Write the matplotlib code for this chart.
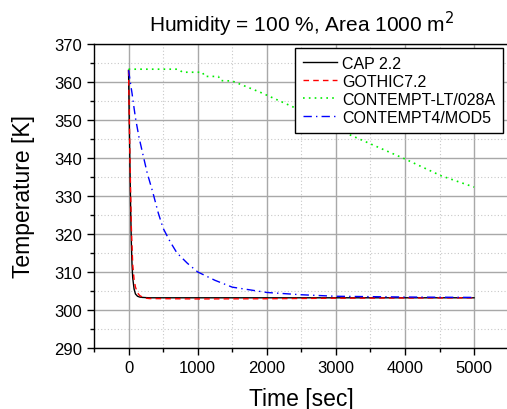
import matplotlib.pyplot as plt
from matplotlib.ticker import MultipleLocator

plt.rcParams['font.family'] = ['Liberation Sans', 'DejaVu Sans']

# CAP 2.2
t_cap = [0, 10, 20, 30, 40, 50, 60, 80, 100, 130, 160, 200, 300, 1000, 2000, 3000, 4000, 5000]
T_cap = [363, 350, 338, 327, 318, 312, 308.5, 305.5, 304.2, 303.6, 303.4, 303.3, 303.2,
         303.2, 303.2, 303.2, 303.2, 303.2]

# GOTHIC7.2
t_got = [0, 20, 40, 60, 80, 100, 130, 160, 200, 250, 300, 1000, 2000, 3000, 4000, 5000]
T_got = [363, 340, 322, 312, 308, 306, 304.5, 303.8, 303.4, 303.1, 303.0, 302.9, 302.95,
         303.1, 303.15, 303.2]

# CONTEMPT-LT/028A
t_lt = [0, 700, 730, 780, 1070, 1100, 1300, 1330, 1500, 1910, 2390, 3170, 4000, 4520, 5000]
T_lt = [363.3, 363.3, 363.2, 362.5, 362.5, 361.4, 361.4, 360.3, 360.2, 357.2, 353.3, 346.3,
        339.7, 335.3, 332.3]

# CONTEMPT4/MOD5
t_c4 = [0, 25, 50, 75, 100, 150, 200, 270, 350, 430, 500, 600, 700, 850, 1000, 1250, 1500,
        2000, 2500, 3000, 4000, 5000]
T_c4 = [363, 360, 357, 353.7, 350.5, 345.5, 341.5, 336, 331, 325.5, 321.5, 318, 315, 312.3,
        310, 307.8, 306, 304.6, 304.0, 303.6, 303.4, 303.3]

fig = plt.figure(figsize=(5.07, 4.10), dpi=100)
ax = fig.add_axes([94 / 507, 61 / 410, 414.6 / 507, 304.3 / 410])

ax.plot(t_cap, T_cap, color='black', lw=1.0, ls='-', label='CAP 2.2')
ax.plot(t_got, T_got, color='red', lw=1.0, ls=(0, (4, 3)), label='GOTHIC7.2')
ax.plot(t_lt, T_lt, color='#00ee00', lw=1.2, ls=(0, (1, 2.5)), label='CONTEMPT-LT/028A')
ax.plot(t_c4, T_c4, color='blue', lw=1.0, ls=(0, (6, 3, 1, 3)), label='CONTEMPT4/MOD5')

ax.set_xlim(-500, 5500)
ax.set_ylim(290, 370)
ax.xaxis.set_major_locator(MultipleLocator(1000))
ax.xaxis.set_minor_locator(MultipleLocator(500))
ax.yaxis.set_major_locator(MultipleLocator(10))
ax.yaxis.set_minor_locator(MultipleLocator(5))
ax.set_xticks([0, 1000, 2000, 3000, 4000, 5000])

ax.grid(which='major', color='#a8a8a8', lw=1.0, ls='-')
ax.grid(which='minor', color='#c8c8c8', lw=0.8, ls=(0, (1, 2)))
ax.set_axisbelow(True)

ax.tick_params(which='major', direction='out', length=5, width=1, labelsize=12)
ax.tick_params(which='minor', direction='out', length=3, width=1)
for s in ax.spines.values():
    s.set_linewidth(1.0)

ax.set_xlabel('Time [sec]', fontsize=16.5, labelpad=9)
ax.set_ylabel('Temperature [K]', fontsize=16.5, labelpad=14)
ax.set_title('Humidity = 100 %, Area 1000 m$^2$', fontsize=15, pad=9)

leg = ax.legend(loc='upper right', bbox_to_anchor=(0.9865, 0.986), fontsize=11.5,
                frameon=True, fancybox=False, framealpha=1, edgecolor='black',
                handlelength=2.15, borderpad=0.5, labelspacing=0.18, handletextpad=0.3,
                borderaxespad=0.0)
leg.get_frame().set_linewidth(1.0)

fig.savefig('out.png', dpi=100)
